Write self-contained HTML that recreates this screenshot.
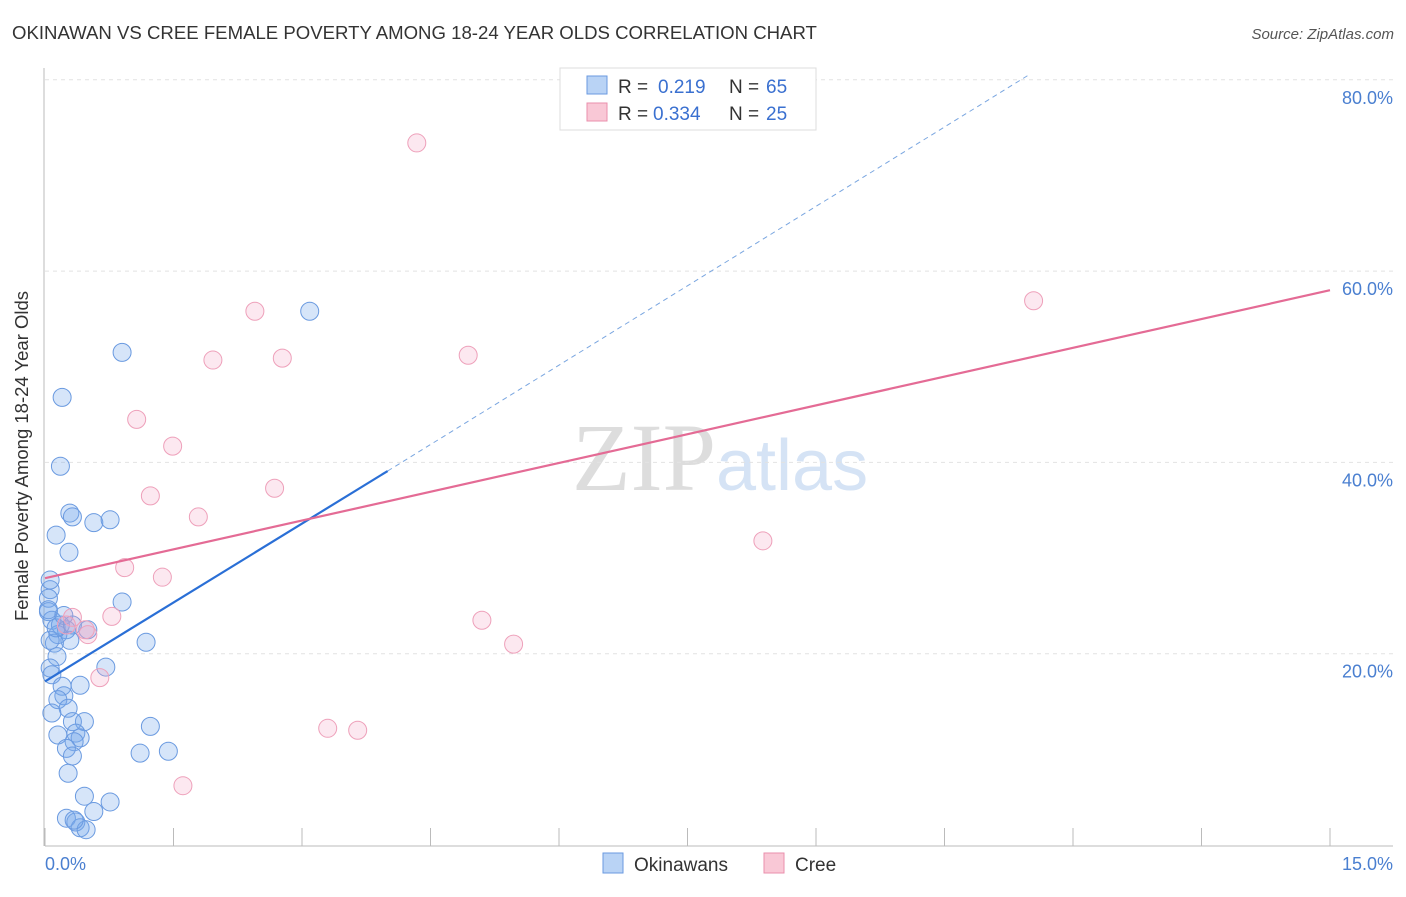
<!DOCTYPE html>
<html><head><meta charset="utf-8"><style>
body{margin:0;background:#fff;font-family:"Liberation Sans",sans-serif;}
</style></head><body>
<svg id="c" width="1406" height="892" xmlns="http://www.w3.org/2000/svg">
<text x="12" y="39" font-size="18.6" fill="#333">OKINAWAN VS CREE FEMALE POVERTY AMONG 18-24 YEAR OLDS CORRELATION CHART</text>
<text x="1394" y="39" font-size="15" fill="#555" font-style="italic" text-anchor="end">Source: ZipAtlas.com</text>
<text x="716" y="490" font-size="96" fill="#ddd" text-anchor="end" font-family="Liberation Serif">ZIP</text>
<text x="716" y="490" font-size="72" fill="#d5e3f5">atlas</text>
<g id="grid"></g><g id="marks"></g>
<text x="28" y="456" font-size="18.5" fill="#333" text-anchor="middle" transform="rotate(-90 28 456)">Female Poverty Among 18-24 Year Olds</text>
<text x="45" y="870" font-size="18" fill="#4a7fd0">0.0%</text>
<text x="1393" y="870" font-size="18" fill="#4a7fd0" text-anchor="end">15.0%</text>
<g>
<rect x="560" y="68" width="256" height="62" fill="#fff" stroke="#ddd"/>
<rect x="587" y="76" width="20" height="18" fill="#b9d3f5" stroke="#6a9ae0"/>
<rect x="587" y="103" width="20" height="18" fill="#f9c8d6" stroke="#ea8fac"/>
<text x="618" y="93" font-size="19" fill="#333">R =</text>
<text x="658" y="93" font-size="19" fill="#3a70d0">0.219</text>
<text x="729" y="93" font-size="19" fill="#333">N =</text>
<text x="766" y="93" font-size="19" fill="#3a70d0">65</text>
<text x="618" y="120" font-size="19" fill="#333">R =</text>
<text x="653" y="120" font-size="19" fill="#3a70d0">0.334</text>
<text x="729" y="120" font-size="19" fill="#333">N =</text>
<text x="766" y="120" font-size="19" fill="#3a70d0">25</text>
</g>
<g>
<rect x="603" y="853" width="20" height="20" fill="#b9d3f5" stroke="#6a9ae0"/>
<text x="634" y="871" font-size="19" fill="#333">Okinawans</text>
<rect x="764" y="853" width="20" height="20" fill="#f9c8d6" stroke="#ea8fac"/>
<text x="795" y="871" font-size="19" fill="#333">Cree</text>
</g>
</svg>
<script>
const yTicks=[20,40,60,80];
const yTickLabels=["20.0%","40.0%","60.0%","80.0%"];
const xTicks=[0,1.5,3,4.5,6,7.5,9,10.5,12,13.5,15];
const blueX=[3.09,0.90,0.20,0.18,0.29,0.32,0.57,0.76,0.13,0.28,0.06,0.04,0.90,0.04,0.08,0.18,0.25,0.50,0.15,0.29,1.18,0.11,0.14,0.71,0.06,0.08,0.20,0.41,0.22,0.15,0.27,0.08,0.46,0.32,0.15,0.36,0.41,0.34,0.25,0.32,1.11,1.44,1.23,0.27,0.46,0.76,0.57,0.25,0.36,0.41,0.48,0.34,0.06,0.04,0.06,0.13,0.22,0.32];
const blueY=[55.8,51.5,46.8,39.6,34.7,34.3,33.7,34.0,32.4,30.6,26.7,25.8,25.4,24.4,23.5,23.0,22.5,22.5,22.0,21.4,21.2,21.1,19.7,18.6,18.5,17.8,16.6,16.7,15.6,15.2,14.3,13.8,12.9,12.9,11.5,11.7,11.2,10.8,10.1,9.3,9.6,9.8,12.4,7.5,5.1,4.5,3.5,2.8,2.4,1.8,1.6,2.6,27.7,24.6,21.4,22.7,24.0,23.0];
const pinkX=[4.34,2.45,11.54,1.96,2.77,4.94,1.07,1.49,1.23,2.68,1.79,8.38,0.93,1.37,0.32,0.78,0.50,5.10,5.47,0.64,3.30,3.65,1.61,0.25,0.47];
const pinkY=[73.4,55.8,56.9,50.7,50.9,51.2,44.5,41.7,36.5,37.3,34.3,31.8,29.0,28.0,23.8,23.9,22.0,23.5,21.0,17.5,12.2,12.0,6.2,23.0,22.5];
const blueTrend=[[0,17.1],[4.0,39.1]];
const blueTrendExt=[[4.0,39.1],[11.5,80.6]];
const pinkTrend=[[0,27.9],[15,58.0]];
const X=v=>45+v*1285/15, Y=v=>845-v*9.565;
const NS="http://www.w3.org/2000/svg";
function mk(t,a,p){const e=document.createElementNS(NS,t);for(const k in a)e.setAttribute(k,a[k]);p.appendChild(e);return e;}
const g=document.getElementById('grid'),m=document.getElementById('marks');
yTicks.forEach((t,i)=>{
 const l=mk('line',{x1:45,x2:1393,y1:Y(t),y2:Y(t),stroke:'#e2e2e2','stroke-dasharray':'4 4'},g);
 
 
 const tx=mk('text',{x:1393,y:Y(t)+24,'font-size':18,fill:'#4a7fd0','text-anchor':'end'},g);
 tx.textContent=yTickLabels[i];
 
 
});
const ax=mk('line',{x1:45,x2:1393,y1:846,y2:846,stroke:'#bbb'},g);


const ay=mk('line',{x1:44,x2:44,y1:68,y2:846,stroke:'#bbb'},g);


xTicks.forEach(t=>{
 const l=mk('line',{x1:X(t),x2:X(t),y1:828,y2:846,stroke:'#bbb'},g);
 
 
});
blueX.forEach((v,i)=>{
 const c=mk('circle',{cx:X(v),cy:Y(blueY[i]),r:9,fill:'rgba(120,170,235,0.3)',stroke:'#6a9ae0','stroke-width':1},m);
 
 
});
pinkX.forEach((v,i)=>{
 const c=mk('circle',{cx:X(v),cy:Y(pinkY[i]),r:9,fill:'rgba(245,165,195,0.25)',stroke:'#eea0ba','stroke-width':1},m);
 
 
});
const l1=mk('line',{x1:X(blueTrendExt[0][0]),y1:Y(blueTrendExt[0][1]),x2:X(blueTrendExt[1][0]),y2:Y(blueTrendExt[1][1]),stroke:'#7aa6e0','stroke-dasharray':'5 4','stroke-width':1},m);


const l2=mk('line',{x1:X(blueTrend[0][0]),y1:Y(blueTrend[0][1]),x2:X(blueTrend[1][0]),y2:Y(blueTrend[1][1]),stroke:'#2a6fd6','stroke-width':2.2},m);


const l3=mk('line',{x1:X(pinkTrend[0][0]),y1:Y(pinkTrend[0][1]),x2:X(pinkTrend[1][0]),y2:Y(pinkTrend[1][1]),stroke:'#e46b95','stroke-width':2.2},m);


</script>
</body></html>
